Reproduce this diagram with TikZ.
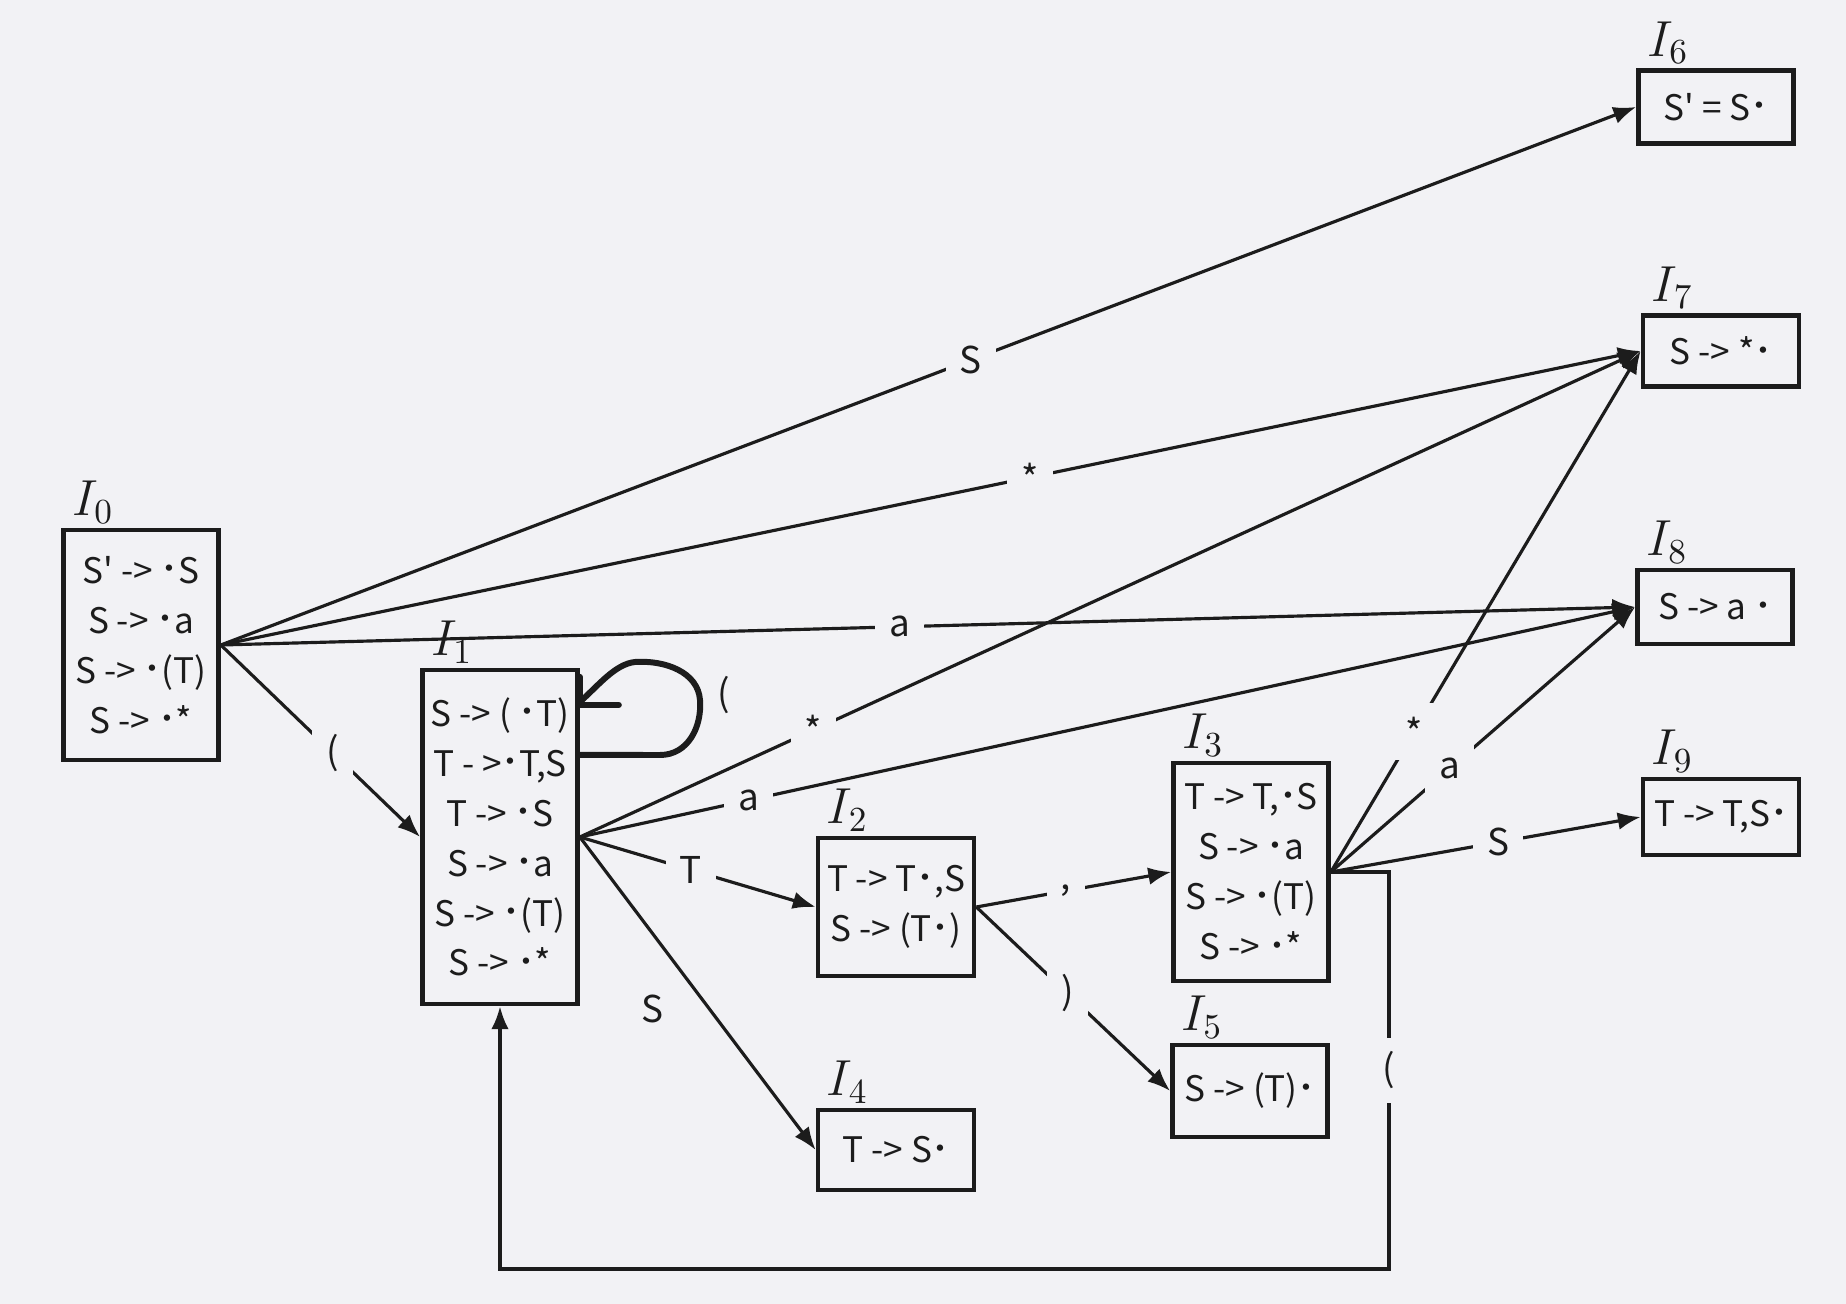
\documentclass[tikz,border=0pt]{standalone}
\usepackage{fontspec}
\newfontfamily\itemfont{Noto Sans CJK SC}
\usetikzlibrary{arrows.meta,positioning}
\definecolor{paper}{RGB}{242,242,245}
\definecolor{ink}{RGB}{28,28,28}
\newcommand\idot{\makebox[0.5em]{\fontsize{8.5}{9}\selectfont\raisebox{0.12em}{·}}}

\begin{document}
\begin{tikzpicture}[x=0.01cm,y=-0.01cm,>={Latex[length=6.5pt,width=5pt]},
  state/.style={draw=ink,line width=1.3pt,align=center,text=ink,
    font=\itemfont\fontsize{10}{14.2}\selectfont,inner sep=0pt},
  setname/.style={font=\fontsize{14}{16}\selectfont,inner sep=1pt,text=ink},
  edge/.style={->,line width=0.9pt,draw=ink},
  sym/.style={fill=paper,text=ink,font=\itemfont\fontsize{10.5}{12}\selectfont,inner sep=4pt},
  loopln/.style={line width=1.7pt,draw=ink,line cap=round,line join=round}]
  \fill[paper] (0,0) rectangle (1846,1304);
  \useasboundingbox (0,0) rectangle (1846,1304);
  % item sets
  \node[state,minimum width=1.55cm,minimum height=2.30cm] (i0) at (141,645)
    {S' -> \idot S\\S -> \idot a\\S -> \idot(T)\\S -> \idot*};
  \node[state,minimum width=1.55cm,minimum height=3.34cm] (i1) at (500,837)
    {S -> ( \idot T)\\T - >\idot T,S\\T -> \idot S\\S -> \idot a\\S -> \idot(T)\\S -> \idot*};
  \node[state,minimum width=1.56cm,minimum height=1.38cm] (i2) at (896,907)
    {T -> T\idot,S\\S -> (T\idot)};
  \node[state,minimum width=1.55cm,minimum height=2.18cm] (i3) at (1251,872)
    {T -> T,\idot S\\S -> \idot a\\S -> \idot(T)\\S -> \idot*};
  \node[state,minimum width=1.56cm,minimum height=0.80cm] (i4) at (896,1150) {T -> S\idot};
  \node[state,minimum width=1.55cm,minimum height=0.92cm] (i5) at (1250,1091) {S -> (T)\idot};
  \node[state,minimum width=1.55cm,minimum height=0.73cm] (i6) at (1716,107) {S' = S\idot};
  \node[state,minimum width=1.56cm,minimum height=0.71cm] (i7) at (1721,351) {S -> *\idot};
  \node[state,minimum width=1.55cm,minimum height=0.74cm] (i8) at (1715,607) {S -> a \idot};
  \node[state,minimum width=1.56cm,minimum height=0.76cm] (i9) at (1721,817) {T -> T,S\idot};
  % set names
  \foreach \k in {0,...,9}
    \node[setname,above right=0pt and 2pt of i\k.north west] (n\k) {$I_{\k}$};
  % transitions from I0
  \draw[edge] (i0.east) -- node[sym,pos=.53] (s06) {S} (i6.west);
  \draw[edge] (i0.east) -- node[sym,pos=.57] (s07) {*} (i7.west);
  \draw[edge] (i0.east) -- node[sym,pos=.48] (s08) {a} (i8.west);
  \draw[edge] (i0.east) -- node[sym,pos=.56] (s01) {(} (i1.west);
  % transitions from I1
  \draw[edge] (i1.east) -- node[sym,pos=.22] (s17) {*} (i7.west);
  \draw[edge] (i1.east) -- node[sym,pos=.16] (s18) {a} (i8.west);
  \draw[edge] (i1.east) -- node[sym,pos=.47] (s12) {T} (i2.west);
  \draw[edge] (i1.east) -- node[sym,pos=.55,fill=none,xshift=-.57cm] (s14) {S} (i4.west);
  \draw[loopln] ([yshift=.82cm]i1.east) -- (660,755)
    .. controls (688,755) and (702,727) .. (700,700)
    .. controls (698,672) and (665,660) .. (635,662)
    .. controls (615,664) and (598,686) .. ([yshift=1.35cm]i1.east);
  \draw[loopln] ([yshift=1.6cm]i1.east) -- ([yshift=1.32cm]i1.east) -- ++(39,0);
  \node[sym,fill=none] (s11) at (724,695) {(};
  % transitions from I2
  \draw[edge] (i2.east) -- node[sym,pos=.46] (s23) {,} (i3.west);
  \draw[edge] (i2.east) -- node[sym,pos=.47] (s25) {)} (i5.west);
  % transitions from I3
  \draw[edge] (i3.east) -- node[sym,pos=.27] (s37) {*} (i7.west);
  \draw[edge] (i3.east) -- node[sym,pos=.39] (s38) {a} (i8.west);
  \draw[edge] (i3.east) -- node[sym,pos=.54] (s39) {S} (i9.west);
  \coordinate (ret) at (1389,1269);
  \draw[edge] (i3.east) -- (i3.east -| ret) -- node[sym,pos=.5] (s31) {(} (ret)
    -- (ret -| i1.south) -- (i1.south);
\end{tikzpicture}
\end{document}
